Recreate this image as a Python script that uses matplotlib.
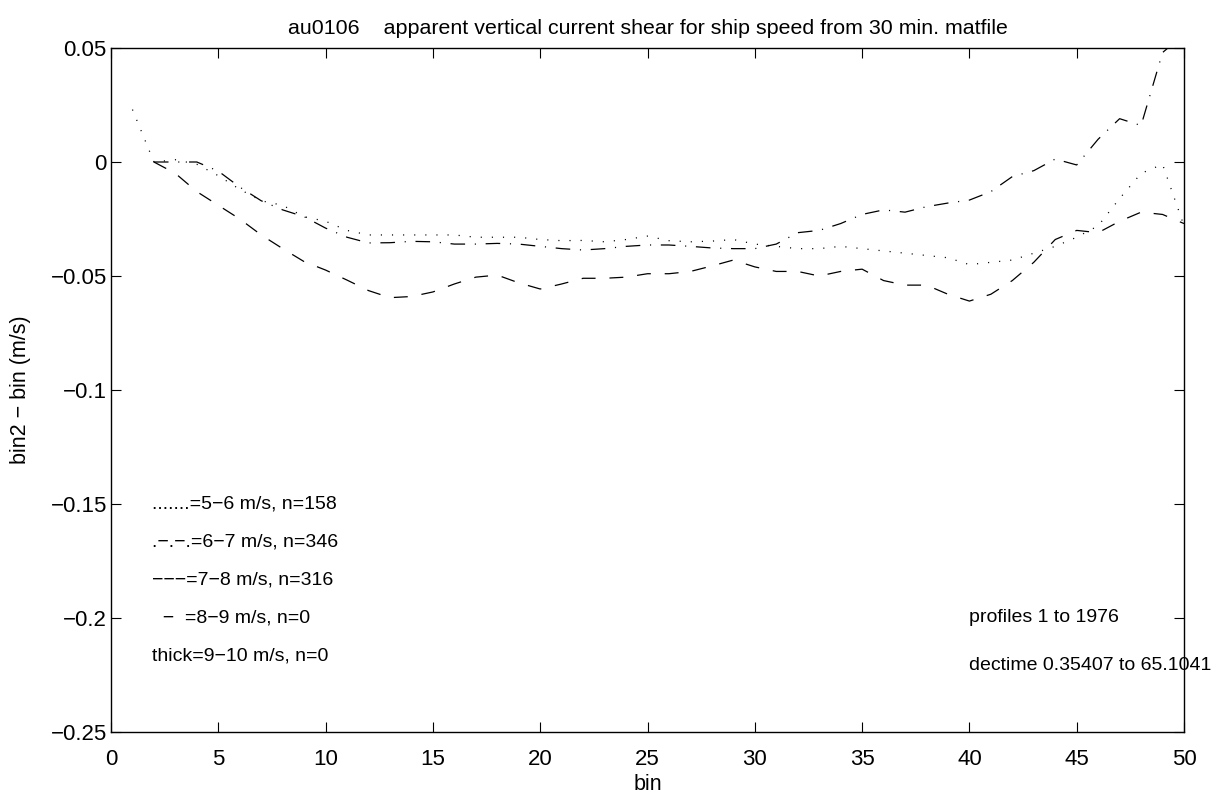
import matplotlib
matplotlib.use("Agg")
import matplotlib.pyplot as plt
import numpy as np

plt.rcParams['font.family'] = ['Liberation Sans', 'DejaVu Sans']
plt.rcParams['lines.scale_dashes'] = False

# ---- data ----
bins_56 = list(range(1, 51))
shear_56 = [0.023, 0.000, 0.001, -0.001, -0.006, -0.012, -0.017, -0.019, -0.024, -0.026,
            -0.030, -0.032, -0.032, -0.032, -0.032, -0.032, -0.033, -0.033, -0.033, -0.034,
            -0.0345, -0.0344, -0.035, -0.034, -0.0325, -0.0345, -0.035, -0.0347, -0.034, -0.036,
            -0.037, -0.038, -0.038, -0.037, -0.038, -0.039, -0.040, -0.041, -0.042, -0.045,
            -0.044, -0.043, -0.040, -0.037, -0.033, -0.028, -0.016, -0.005, -0.001, -0.028]

bins_67 = list(range(2, 51))
shear_67 = [0.000, -0.000, 0.000, -0.004, -0.011, -0.017, -0.021, -0.024, -0.029,
            -0.033, -0.0355, -0.0354, -0.0348, -0.035, -0.036, -0.036, -0.0357, -0.036, -0.037,
            -0.038, -0.0386, -0.038, -0.037, -0.0364, -0.0364, -0.037, -0.0377, -0.038, -0.038,
            -0.036, -0.031, -0.030, -0.027, -0.023, -0.021, -0.022, -0.0196, -0.018, -0.0167,
            -0.013, -0.0064, -0.0038, 0.0013, -0.0013, 0.010, 0.019, 0.016, 0.048, 0.056]

bins_78 = list(range(2, 51))
shear_78 = [0.000, -0.005, -0.013, -0.019, -0.025, -0.032, -0.038, -0.0437, -0.0474,
            -0.0518, -0.0564, -0.0595, -0.059, -0.057, -0.0535, -0.0505, -0.0496, -0.053, -0.0557,
            -0.0535, -0.051, -0.051, -0.0505, -0.049, -0.049, -0.048, -0.0456, -0.043, -0.046,
            -0.048, -0.048, -0.050, -0.048, -0.047, -0.052, -0.054, -0.054, -0.058, -0.061,
            -0.058, -0.052, -0.044, -0.034, -0.030, -0.031, -0.026, -0.022, -0.023, -0.027]

legend_texts = [".......=5−6 m/s, n=158",
                ".−.−.=6−7 m/s, n=346",
                "−−−=7−8 m/s, n=316",
                "  −  =8−9 m/s, n=0",
                "thick=9−10 m/s, n=0"]
legend_y = [-0.15, -0.1667, -0.1833, -0.2, -0.2167]
info_texts = ["profiles 1 to 1976", "dectime 0.35407 to 65.1041"]
info_y = [-0.2, -0.221]

title = "au0106    apparent vertical current shear for ship speed from 30 min. matfile"
xticks = [0, 5, 10, 15, 20, 25, 30, 35, 40, 45, 50]
yticks = [-0.25, -0.2, -0.15, -0.1, -0.05, 0, 0.05]
ytick_labels = ["−0.25", "−0.2", "−0.15", "−0.1", "−0.05", "0", "0.05"]

# ---- figure ----
fig = plt.figure(figsize=(12.24, 8.01), dpi=100)
ax = fig.add_axes([111/1224, 1 - 732/801, (1184-111)/1224, (732-48)/801])

lw = 0.9
l1, = ax.plot(bins_56, shear_56, color='black', lw=lw)
l1.set_dashes((0.8, 7.2))
l2, = ax.plot(bins_67, shear_67, color='black', lw=lw)
l2.set_dashes((10.5, 7.0, 0.8, 7.0))
l3, = ax.plot(bins_78, shear_78, color='black', lw=lw)
l3.set_dashes((10, 10))

ax.set_xlim(0, 50)
ax.set_ylim(-0.25, 0.05)
ax.set_xticks(xticks)
ax.set_xticklabels([str(t) for t in xticks])
ax.set_yticks(yticks)
ax.set_yticklabels(ytick_labels)
ax.tick_params(direction='in', length=7, width=0.8, top=True, right=True,
               labelsize=16)
ax.tick_params(axis='x', pad=12)
ax.tick_params(axis='y', pad=3)
for s in ax.spines.values():
    s.set_linewidth(1.0)

ax.set_title(title, fontsize=15.4, pad=10)
ax.set_xlabel("bin", fontsize=15.5, labelpad=3)
ax.set_ylabel("bin2 − bin (m/s)", fontsize=15.5, labelpad=14)

for t, y in zip(legend_texts, legend_y):
    ax.text(1.9, y, t, fontsize=14, ha='left', va='center')
for t, y in zip(info_texts, info_y):
    ax.text(40.0, y, t, fontsize=14, ha='left', va='center', clip_on=False)

fig.savefig("out.png", dpi=100)
